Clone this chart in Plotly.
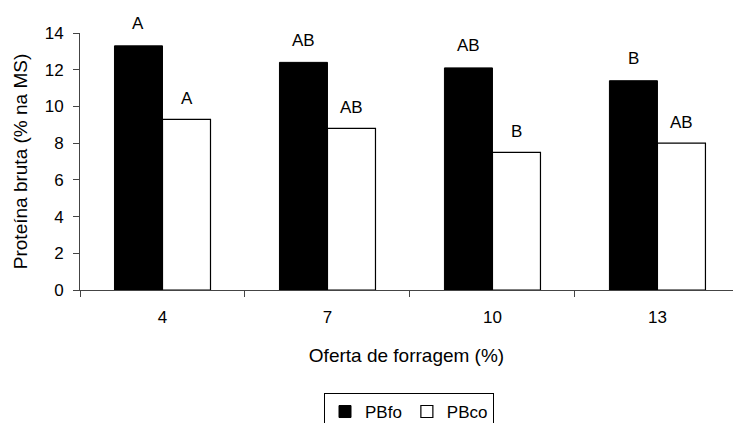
import plotly.graph_objects as go

categories = ["4", "7", "10", "13"]
pbfo = [13.3, 12.4, 12.1, 11.4]
pbco = [9.3, 8.8, 7.5, 8.0]
letters_pbfo = ["A", "AB", "AB", "B"]
letters_pbco = ["A", "AB", "B", "AB"]

FONT = "Arial, Liberation Sans, sans-serif"
BARGAP = 0.418
half = (1 - BARGAP) / 4

fig = go.Figure()
fig.add_trace(go.Bar(x=categories, y=pbfo, name="PBfo",
                     marker=dict(color="black", line=dict(color="black", width=1))))
fig.add_trace(go.Bar(x=categories, y=pbco, name="PBco",
                     marker=dict(color="white", line=dict(color="black", width=1.2))))

for i in range(len(categories)):
    fig.add_annotation(x=i - half, y=pbfo[i], text=letters_pbfo[i], showarrow=False,
                       yanchor="middle", yshift=22, font=dict(size=17, color="black", family=FONT))
    fig.add_annotation(x=i + half, y=pbco[i], text=letters_pbco[i], showarrow=False,
                       yanchor="middle", yshift=21, font=dict(size=17, color="black", family=FONT))

fig.update_layout(
    width=733, height=423,
    margin=dict(l=80, r=0, t=33, b=133),
    paper_bgcolor="white", plot_bgcolor="white",
    barmode="group", bargap=BARGAP, bargroupgap=0,
    font=dict(family=FONT, size=17, color="black"),
    showlegend=True,
    legend=dict(orientation="h", xref="container", yref="container",
                x=0.558, xanchor="center", y=0.071, yanchor="top",
                bordercolor="black", borderwidth=1, bgcolor="white",
                itemwidth=30, font=dict(size=17, family=FONT),
                traceorder="normal"),
)
fig.update_xaxes(
    type="category", range=[-0.5, 3.458], tickson="boundaries", automargin=False,
    showline=True, linecolor="#444", linewidth=1,
    ticks="outside", ticklen=6, tickcolor="#444",
    ticklabelstandoff=12, showgrid=False,
    tickfont=dict(size=17, family=FONT),
    title=dict(text="Oferta de forragem (%)", standoff=22, font=dict(size=19, family=FONT)),
)
fig.update_yaxes(
    range=[0, 14], dtick=2, showline=True, linecolor="#444", linewidth=1, automargin=False,
    ticks="outside", ticklen=6, tickcolor="#444", showgrid=False, zeroline=False,
    ticklabelstandoff=6,
    tickfont=dict(size=17, family=FONT),
    title=dict(text="Proteína bruta (% na MS)", standoff=12, font=dict(size=19, family=FONT)),
)

fig.write_html("out.html", config={"displayModeBar": False},
               post_script="document.body.style.margin='0';document.body.style.overflow='hidden';")
